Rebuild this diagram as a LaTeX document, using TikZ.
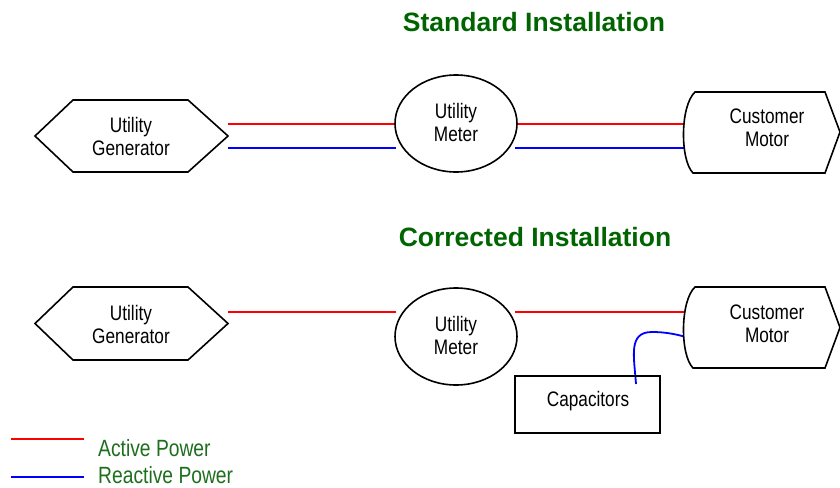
\documentclass[tikz,border=0pt]{standalone}
\usepackage{fontspec}
\setmainfont{Liberation Sans}[FakeStretch=0.82]
\newfontfamily\titlefont{Liberation Sans}
\definecolor{titlegreen}{RGB}{0,100,0}
\definecolor{leggreen}{RGB}{30,110,30}
\begin{document}
\begin{tikzpicture}[x=1pt,y=-1pt,
  shp/.style={draw=black, line width=1.6pt, fill=white, line join=miter},
  lbl/.style={font=\fontsize{21}{23}\selectfont, align=center, inner sep=0pt},
  act/.style={draw=red, line width=1.8pt},
  rea/.style={draw=blue, line width=1.8pt},
  ttl/.style={font=\titlefont\bfseries\fontsize{26.5}{30}\selectfont, text=titlegreen, inner sep=0pt, anchor=base},
  leg/.style={font=\fontsize{23.5}{26}\selectfont, text=leggreen, inner sep=0pt, anchor=base west}]
\useasboundingbox (0,0) rectangle (840,487);

% ---------- Standard installation ----------
\node[ttl] (t1) at (534,32) {Standard Installation};

\coordinate (g1a) at (228,124); \coordinate (m1al) at (396,124);
\coordinate (m1ar) at (517,124); \coordinate (c1a) at (688,124);
\coordinate (g1b) at (228,148); \coordinate (m1bl) at (396,148);
\coordinate (m1br) at (515,148); \coordinate (c1b) at (688,148);
\draw[act] (g1a) -- (m1al);
\draw[act] (m1ar) -- (c1a);
\draw[rea] (g1b) -- (m1bl);
\draw[rea] (m1br) -- (c1b);

\draw[shp] (35,136) -- (73,100) -- (188,100) -- (228,136) -- (188,172) -- (73,172) -- cycle;
\draw[shp] (456,123.5) ellipse [x radius=61, y radius=48.5];
\draw[shp] (695,92) -- (825,92) -- (840,132) -- (825,173) -- (693,173)
  .. controls (680,160) and (680,106) .. (695,92) -- cycle;

\node[lbl] (gen1) at (131,136) {Utility\\Generator};
\node[lbl] (met1) at (456,122.5) {Utility\\Meter};
\node[lbl] (mot1) at (767,127.5) {Customer\\Motor};

% ---------- Corrected installation ----------
\node[ttl] (t2) at (535,246) {Corrected Installation};

\coordinate (g2a) at (228,312); \coordinate (m2al) at (396,312);
\coordinate (m2ar) at (515,312); \coordinate (c2a) at (688,312);
\draw[act] (g2a) -- (m2al);
\draw[act] (m2ar) -- (c2a);

\coordinate (capw) at (636,384);
\coordinate (motw) at (686,337);
\draw[rea] (capw) .. controls (634,356) and (628,332) .. (652,332)
  .. controls (665,332) and (675,334) .. (motw);

\draw[shp] (35,323.5) -- (73,287) -- (188,287) -- (228,323.5) -- (188,360) -- (73,360) -- cycle;
\draw[shp] (456,336.5) ellipse [x radius=61, y radius=48.5];
\draw[shp] (695,287) -- (825,287) -- (840,327.5) -- (825,368) -- (693,368)
  .. controls (680,355) and (680,301) .. (695,287) -- cycle;
\draw[shp, fill=none] (515,376) rectangle (660,433);

\node[lbl] (gen2) at (131,324) {Utility\\Generator};
\node[lbl] (met2) at (456,335) {Utility\\Meter};
\node[lbl] (mot2) at (767,323.5) {Customer\\Motor};
\node[lbl] (cap) at (588,401) {Capacitors};

% ---------- Legend ----------
\coordinate (la1) at (11,439); \coordinate (la2) at (84,439);
\coordinate (lr1) at (11,477); \coordinate (lr2) at (84,477);
\draw[act] (la1) -- (la2);
\draw[rea] (lr1) -- (lr2);
\node[leg] (lact) at (98,456) {Active Power};
\node[leg] (lrea) at (98,483) {Reactive Power};
\end{tikzpicture}
\end{document}
